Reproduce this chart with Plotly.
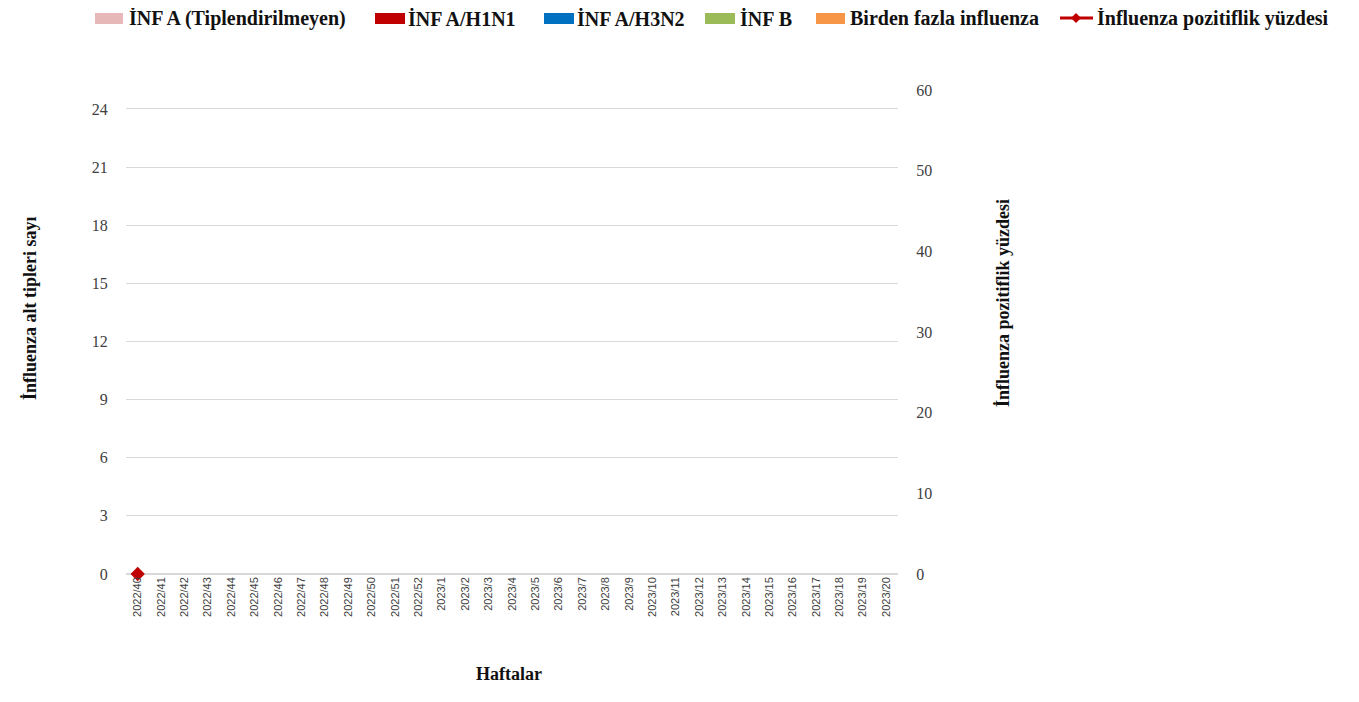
import plotly.graph_objects as go

weeks = [f"2022/{w}" for w in range(40, 53)] + [f"2023/{w}" for w in range(1, 21)]
inf_a_untyped = [0] * len(weeks)
inf_h1n1 = [0] * len(weeks)
inf_h3n2 = [0] * len(weeks)
inf_b = [0] * len(weeks)
multi_inf = [0] * len(weeks)
pos_pct = [0] + [None] * (len(weeks) - 1)

series_names = ["İNF A (Tiplendirilmeyen)", "İNF A/H1N1", "İNF A/H3N2", "İNF B", "Birden fazla influenza"]
series_colors = ["#E6B9B8", "#C00000", "#0070C0", "#9BBB59", "#F79646"]
line_name = "İnfluenza pozitiflik yüzdesi"

F = "Liberation Serif"
L, R, T, B = 118, 469, 82, 136
pw = 1359 - L - R
ph = 702 - T - B
def px(x): return (x - 8 - L) / pw
def py(y): return (8 + 702 - B - y) / ph

fig = go.Figure()
for name, vals, col in zip(series_names, [inf_a_untyped, inf_h1n1, inf_h3n2, inf_b, multi_inf], series_colors):
    fig.add_trace(go.Bar(x=weeks, y=vals, name=name, marker_color=col, showlegend=False))
fig.add_trace(go.Scatter(x=weeks, y=pos_pct, name=line_name, yaxis="y2", showlegend=False, cliponaxis=False,
                         mode="lines+markers", line=dict(color="#C00000", width=2),
                         marker=dict(symbol="diamond", size=11, color="#C00000")))

# manual legend (single row, as in reference)
ann = []
shapes = []
sw = [(95, 123, 127), (375, 405, 406), (544, 574, 575), (705, 735, 738), (816, 845, 848)]
ly = 18
for (x0, x1, tx), name, col in zip(sw, series_names, series_colors):
    shapes.append(dict(type="rect", xref="paper", yref="paper", x0=px(x0), x1=px(x1), y0=py(ly + 6), y1=py(ly - 5),
                       fillcolor=col, line=dict(width=0)))
    ann.append(dict(text=name, x=px(tx), y=py(ly), xref="paper", yref="paper", xanchor="left", yanchor="middle",
                    showarrow=False, font=dict(size=20, weight="bold", color="#111111")))
shapes.append(dict(type="line", xref="paper", yref="paper", x0=px(1060), x1=px(1093), y0=py(ly), y1=py(ly),
                   line=dict(color="#C00000", width=3)))
cx, cy, d = 1076, ly, 5
shapes.append(dict(type="path", xref="paper", yref="paper", fillcolor="#C00000", line=dict(width=0),
                   path=f"M {px(cx-d)} {py(cy)} L {px(cx)} {py(cy-d)} L {px(cx+d)} {py(cy)} L {px(cx)} {py(cy+d)} Z"))
ann.append(dict(text=line_name, x=px(1095), y=py(ly), xref="paper", yref="paper", xanchor="left", yanchor="middle",
                showarrow=False, font=dict(size=20, weight="bold", color="#111111")))

ann += [
    dict(text="Haftalar", x=px(509), xref="paper", y=py(686), yref="paper", showarrow=False,
         font=dict(size=18, weight="bold", color="#111111")),
    dict(text="İnfluenza alt tipleri sayı", textangle=-90, x=px(18), xref="paper",
         y=py(308), yref="paper", showarrow=False, font=dict(size=18, weight="bold", color="#111111")),
    dict(text="İnfluenza pozitiflik yüzdesi", textangle=-90, x=px(1015), xref="paper",
         y=py(303), yref="paper", showarrow=False, font=dict(size=18, weight="bold", color="#111111")),
]

fig.update_layout(
    width=1359, height=702, plot_bgcolor="white", paper_bgcolor="white",
    margin=dict(l=L, r=R, t=T, b=B, autoexpand=False), barmode="stack", showlegend=False,
    font=dict(family=F, size=16, color="#404040"),
    xaxis=dict(type="category", range=[-0.5, 32.5], tickangle=-90,
               tickfont=dict(family="Liberation Sans", size=11, color="#404040"),
               showline=False, ticks=""),
    yaxis=dict(range=[0, 24.98], tickvals=list(range(0, 25, 3)), showgrid=True, gridcolor="#D9D9D9",
               zeroline=True, zerolinecolor="#D9D9D9", tickfont=dict(size=16), ticks="outside", ticklen=14, tickcolor="white"),
    yaxis2=dict(overlaying="y", side="right", range=[0, 60], tickvals=list(range(0, 61, 10)),
                showgrid=False, zeroline=False, tickfont=dict(size=16), ticks="outside", ticklen=14, tickcolor="white"),
    annotations=ann, shapes=shapes,
)
fig.write_html("out.html")
